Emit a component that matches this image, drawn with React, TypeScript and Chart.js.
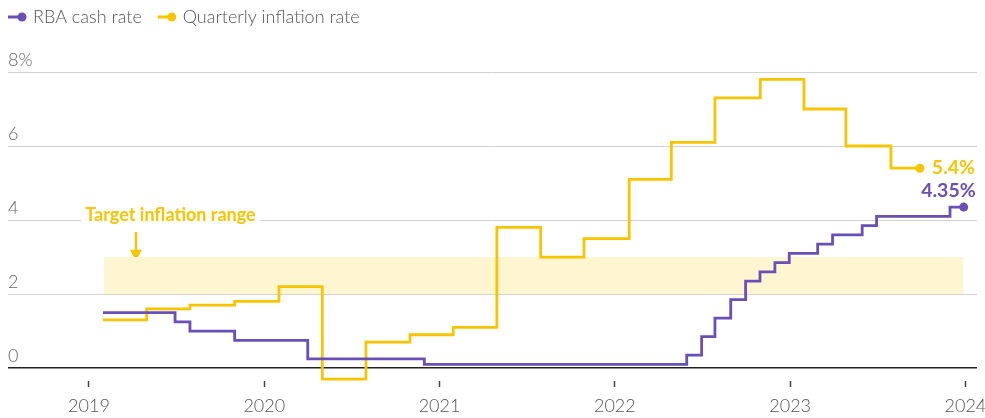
import React, { useEffect, useRef } from 'react';
import { Chart, registerables } from 'chart.js';

Chart.register(...registerables);

const FONT = 'Lato, "Open Sans", sans-serif';
const PURPLE = '#6a4fb6';
const YELLOW = '#f7c400';
const BAND = '#fdf6d0';
const TEXT_GREY = '#555555';

// ---- data ----
const seriesLabels = ['RBA cash rate', 'Quarterly inflation rate'];

const cashDates = [
  2019.08, 2019.491, 2019.576, 2019.831, 2020.248, 2020.913, 2022.41, 2022.495, 2022.571,
  2022.661, 2022.746, 2022.828, 2022.913, 2022.995, 2023.157, 2023.242, 2023.411, 2023.493,
  2023.912, 2023.99,
];
const cashValues = [
  1.5, 1.25, 1.0, 0.75, 0.25, 0.1, 0.35, 0.85, 1.35, 1.85, 2.35, 2.6, 2.85, 3.1, 3.35, 3.6,
  3.85, 4.1, 4.35, 4.35,
];

const inflationDates = [
  2019.08, 2019.329, 2019.576, 2019.831, 2020.084, 2020.331, 2020.58, 2020.831, 2021.078,
  2021.327, 2021.577, 2021.824, 2022.082, 2022.322, 2022.571, 2022.83, 2023.079, 2023.318,
  2023.575, 2023.74,
];
const inflationValues = [
  1.3, 1.6, 1.7, 1.8, 2.2, -0.3, 0.7, 0.9, 1.1, 3.8, 3.0, 3.5, 5.1, 6.1, 7.3, 7.8, 7.0, 6.0,
  5.4, 5.4,
];

const yearTicks = [2019, 2020, 2021, 2022, 2023, 2024];
const yTickValues = [0, 2, 4, 6, 8];
const xRange = [2018.538, 2024.066];
const yRange = [-0.35, 8];

const bandValues = [2, 3];
const bandDates = [2019.086, 2023.99];

const annotationText = 'Target inflation range';
const annotationAt = [2019.465, 4.13];
const arrowX = 2019.268;
const arrowYs = [3.68, 2.9];
const endLabels = ['4.35%', '5.4%'];

const CANVAS_W = 985;
const CANVAS_H = 418;

const lastOnly = (r: number) => (ctx: any) =>
  ctx.dataIndex === ctx.dataset.data.length - 1 ? r : 0;

const topLegend = {
  id: 'topLegend',
  afterDraw(chart: any) {
    const { ctx } = chart;
    ctx.save();
    ctx.font = `300 18px ${FONT}`;
    ctx.textBaseline = 'middle';
    ctx.textAlign = 'left';
    let x = chart.chartArea.left;
    const y = 17;
    chart.data.datasets.forEach((ds: any) => {
      if (!ds.label) return;
      ctx.strokeStyle = ds.borderColor;
      ctx.lineWidth = 3;
      ctx.beginPath();
      ctx.moveTo(x, y);
      ctx.lineTo(x + 14, y);
      ctx.stroke();
      ctx.fillStyle = ds.borderColor;
      ctx.beginPath();
      ctx.arc(x + 14, y, 4.5, 0, Math.PI * 2);
      ctx.fill();
      ctx.fillStyle = TEXT_GREY;
      ctx.fillText(ds.label, x + 25, y);
      x += 25 + ctx.measureText(ds.label).width + 16;
    });
    ctx.restore();
  },
};

const annotations = {
  id: 'annotations',
  beforeDatasetsDraw(chart: any) {
    const { ctx, scales } = chart;
    const xs = scales.x;
    const ys = scales.y;
    ctx.save();
    ctx.font = `700 18px ${FONT}`;
    const tx = xs.getPixelForValue(annotationAt[0]);
    const ty = ys.getPixelForValue(annotationAt[1]);
    const w = ctx.measureText(annotationText).width;
    ctx.fillStyle = '#ffffff';
    ctx.fillRect(tx - w / 2 - 4, ys.getPixelForValue(4) - 2, w + 8, 4);
    ctx.fillStyle = YELLOW;
    ctx.textAlign = 'center';
    ctx.textBaseline = 'middle';
    ctx.fillText(annotationText, tx, ty);

    const ax = xs.getPixelForValue(arrowX);
    const ay1 = ys.getPixelForValue(arrowYs[0]);
    const ay2 = ys.getPixelForValue(arrowYs[1]);
    ctx.strokeStyle = YELLOW;
    ctx.lineWidth = 2.4;
    ctx.beginPath();
    ctx.moveTo(ax, ay1);
    ctx.lineTo(ax, ay2 - 9);
    ctx.stroke();
    ctx.beginPath();
    ctx.moveTo(ax - 6, ay2 - 11);
    ctx.lineTo(ax + 6, ay2 - 11);
    ctx.lineTo(ax, ay2);
    ctx.closePath();
    ctx.fill();
    ctx.restore();
  },
  afterDatasetsDraw(chart: any) {
    const { ctx } = chart;
    ctx.save();
    ctx.font = `700 19.5px ${FONT}`;
    ctx.textBaseline = 'middle';
    const cashMeta = chart.getDatasetMeta(0);
    const cashPt = cashMeta.data[cashMeta.data.length - 1];
    ctx.fillStyle = PURPLE;
    ctx.textAlign = 'right';
    ctx.fillText(endLabels[0], cashPt.x + 12, cashPt.y - 16);
    const infMeta = chart.getDatasetMeta(1);
    const infPt = infMeta.data[infMeta.data.length - 1];
    ctx.fillStyle = YELLOW;
    ctx.textAlign = 'left';
    ctx.fillText(endLabels[1], infPt.x + 12, infPt.y);
    ctx.restore();
  },
};

export default function App() {
  const canvasRef = useRef<HTMLCanvasElement | null>(null);

  useEffect(() => {
    document.body.style.overflow = 'hidden';
    if (!canvasRef.current) return;
    const chart = new Chart(canvasRef.current, {
      type: 'line',
      data: {
        datasets: [
          {
            label: seriesLabels[0],
            data: cashDates.map((d, i) => ({ x: d, y: cashValues[i] })),
            borderColor: PURPLE,
            backgroundColor: PURPLE,
            borderWidth: 2.8,
            stepped: 'before',
            pointRadius: lastOnly(4.5),
            pointHoverRadius: 0,
            pointBorderWidth: 0,
            fill: false,
            order: 1,
          },
          {
            label: seriesLabels[1],
            data: inflationDates.map((d, i) => ({ x: d, y: inflationValues[i] })),
            borderColor: YELLOW,
            backgroundColor: YELLOW,
            borderWidth: 2.8,
            stepped: 'before',
            pointRadius: lastOnly(4.5),
            pointHoverRadius: 0,
            pointBorderWidth: 0,
            fill: false,
            order: 2,
          },
          {
            label: '',
            data: bandDates.map((d) => ({ x: d, y: bandValues[1] })),
            borderWidth: 0,
            borderColor: 'rgba(0,0,0,0)',
            backgroundColor: BAND,
            pointRadius: 0,
            fill: { value: bandValues[0] },
            order: 3,
          },
        ],
      },
      options: {
        animation: false,
        responsive: false,
        devicePixelRatio: 1,
        events: [],
        layout: { padding: { top: 72, left: 8, right: 8, bottom: 0 } },
        plugins: {
          legend: { display: false },
          tooltip: { enabled: false },
        },
        scales: {
          x: {
            type: 'linear',
            min: xRange[0],
            max: xRange[1],
            afterBuildTicks: (scale: any) => {
              scale.ticks = yearTicks.map((v) => ({ value: v }));
            },
            afterFit: (scale: any) => {
              scale.paddingLeft = 0;
              scale.paddingRight = 0;
              scale.height = 37;
            },
            grid: {
              drawOnChartArea: false,
              drawTicks: true,
              tickLength: 6,
              tickColor: '#444444',
              tickWidth: 1.5,
            },
            border: { display: false },
            ticks: {
              padding: 8,
              color: TEXT_GREY,
              font: { family: FONT, size: 18, weight: '300' },
              maxRotation: 0,
              autoSkip: false,
              callback: (v: any) => String(v),
            },
          },
          y: {
            type: 'linear',
            min: yRange[0],
            max: yRange[1],
            afterBuildTicks: (scale: any) => {
              scale.ticks = yTickValues.map((v) => ({ value: v }));
            },
            afterFit: (scale: any) => {
              scale.paddingTop = 0;
              scale.paddingBottom = 0;
              scale.width = 0;
            },
            grid: {
              drawTicks: false,
              color: (c: any) => (c.tick && c.tick.value === 0 ? '#222222' : '#d2d2d2'),
              lineWidth: (c: any) => (c.tick && c.tick.value === 0 ? 1.5 : 1),
            },
            border: { display: false },
            ticks: {
              mirror: true,
              padding: 0,
              labelOffset: -12,
              color: '#666666',
              font: { family: FONT, size: 18, weight: '300' },
              callback: (v: any) => (v === 8 ? '8%' : String(v)),
            },
          },
        },
      },
      plugins: [topLegend, annotations],
    } as any);
    return () => chart.destroy();
  }, []);

  return (
    <div
      style={{
        position: 'fixed',
        left: 0,
        top: 0,
        width: CANVAS_W + 'px',
        height: CANVAS_H + 'px',
        background: '#ffffff',
      }}
    >
      <canvas
        ref={canvasRef}
        width={CANVAS_W}
        height={CANVAS_H}
        style={{ display: 'block', width: CANVAS_W + 'px', height: CANVAS_H + 'px' }}
      />
    </div>
  );
}
